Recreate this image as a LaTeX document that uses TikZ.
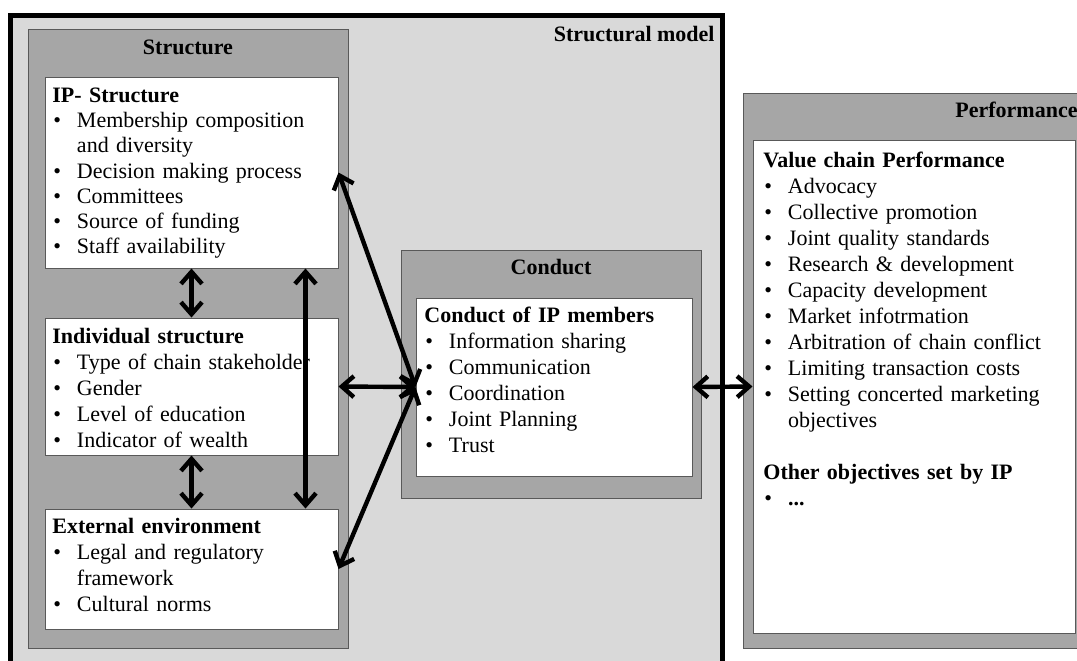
\documentclass[tikz,border=0pt]{standalone}
\usepackage{fontspec}
\setmainfont{Liberation Serif}
\usetikzlibrary{arrows.meta,calc,fit}

\definecolor{pale}{RGB}{217,217,217}
\definecolor{mid}{RGB}{166,166,166}
\definecolor{edge}{RGB}{89,89,89}

% bullet and continuation indent for the lists
\newcommand\bul{\makebox[12.3pt][l]{\hspace{0.5pt}\textbullet}}
\newcommand\cont{\hspace*{12.3pt}}

\begin{document}
\begin{tikzpicture}[x=0.5pt,y=-0.5pt,
  shell/.style={draw=edge, line width=0.5pt, fill=mid, inner sep=0pt},
  card/.style={draw=edge, line width=0.5pt, fill=white, inner sep=0pt},
  heading/.style={font=\fontsize{11pt}{13pt}\selectfont\bfseries, inner sep=0pt},
  copy/.style={inner sep=0pt, anchor=north west, text width=175pt, align=left,
               font=\fontsize{11pt}{13pt}\selectfont},
  link/.style={line width=2.2pt, line join=round,
               {Straight Barb[length=6pt,width=10.5pt]}-{Straight Barb[length=6pt,width=10.5pt]}}
]
\useasboundingbox (0,0) rectangle (1077,660);
\clip (0,0) rectangle (1077,660);

% structural model frame
\node[draw=black, line width=2.5pt, fill=pale, inner sep=0pt, fit={(10.5,15.5) (722,700)}] (model) {};
\node[heading, anchor=base east] (modeltitle) at (715,41) {Structural model};

% structure column
\node[shell, fit={(28,29) (348,648)}] (structure) {};
\node[heading, anchor=base] (structuretitle) at (188,54) {Structure};
\node[card, fit={(45,77) (338,268)}] (ip) {};
\node[card, fit={(45,318) (338,455)}] (ind) {};
\node[card, fit={(45,509) (338,629)}] (ext) {};

\node[copy, font=\fontsize{11pt}{12.6pt}\selectfont] (iptext) at (52,84.4) {\strut\textbf{IP- Structure}\\
\bul Membership composition\\
\cont and diversity\\
\bul Decision making process\\
\bul Committees\\
\bul Source of funding\\
\bul Staff availability};

\node[copy] (indtext) at (52,324.8) {\strut\textbf{Individual structure}\\
\bul Type of chain stakeholder\\
\bul Gender\\
\bul Level of education\\
\bul Indicator of wealth};

\node[copy] (exttext) at (52,514.8) {\strut\textbf{External environment}\\
\bul Legal and regulatory\\
\cont framework\\
\bul Cultural norms};

% conduct column
\node[shell, fit={(401,250) (701,498)}] (conduct) {};
\node[heading, anchor=base] (conducttitle) at (551,274) {Conduct};
\node[card, fit={(416,298) (692,476)}] (cw) {};
\node[copy] (cwtext) at (424,303.8) {\strut\textbf{Conduct of IP members}\\
\bul Information sharing\\
\bul Communication\\
\bul Coordination\\
\bul Joint Planning\\
\bul Trust};

% performance column
\node[shell, fit={(743,93) (1110,648)}] (performance) {};
\node[heading, anchor=base west] (performancetitle) at (955,117) {Performance};
\node[card, fit={(753,140) (1075,633)}] (pw) {};
\node[copy] (pwtext) at (763,148.8) {\strut\textbf{Value chain Performance}\\
\bul Advocacy\\
\bul Collective promotion\\
\bul Joint quality standards\\
\bul Research \& development\\
\bul Capacity development\\
\bul Market infotrmation\\
\bul Arbitration of chain conflict\\
\bul Limiting transaction costs\\
\bul Setting concerted marketing\\
\cont objectives\\[13pt]
\textbf{Other objectives set by IP}\\
\bul \textbf{...}};

% links between the blocks
\draw[link] (ip.south) -- (ind.north);
\draw[link] (ind.south) -- (ext.north);
\draw[link] ($(ip.south east)+(-33,0)$) -- ($(ext.north east)+(-33,0)$);
\draw[link] (ind.east) -- (cw.west);
\draw[link] (ip.east) -- (cw.west);
\draw[link] (ext.east) -- (cw.west);
\draw[link] (cw.east) -- (pw.west);
\end{tikzpicture}
\end{document}
